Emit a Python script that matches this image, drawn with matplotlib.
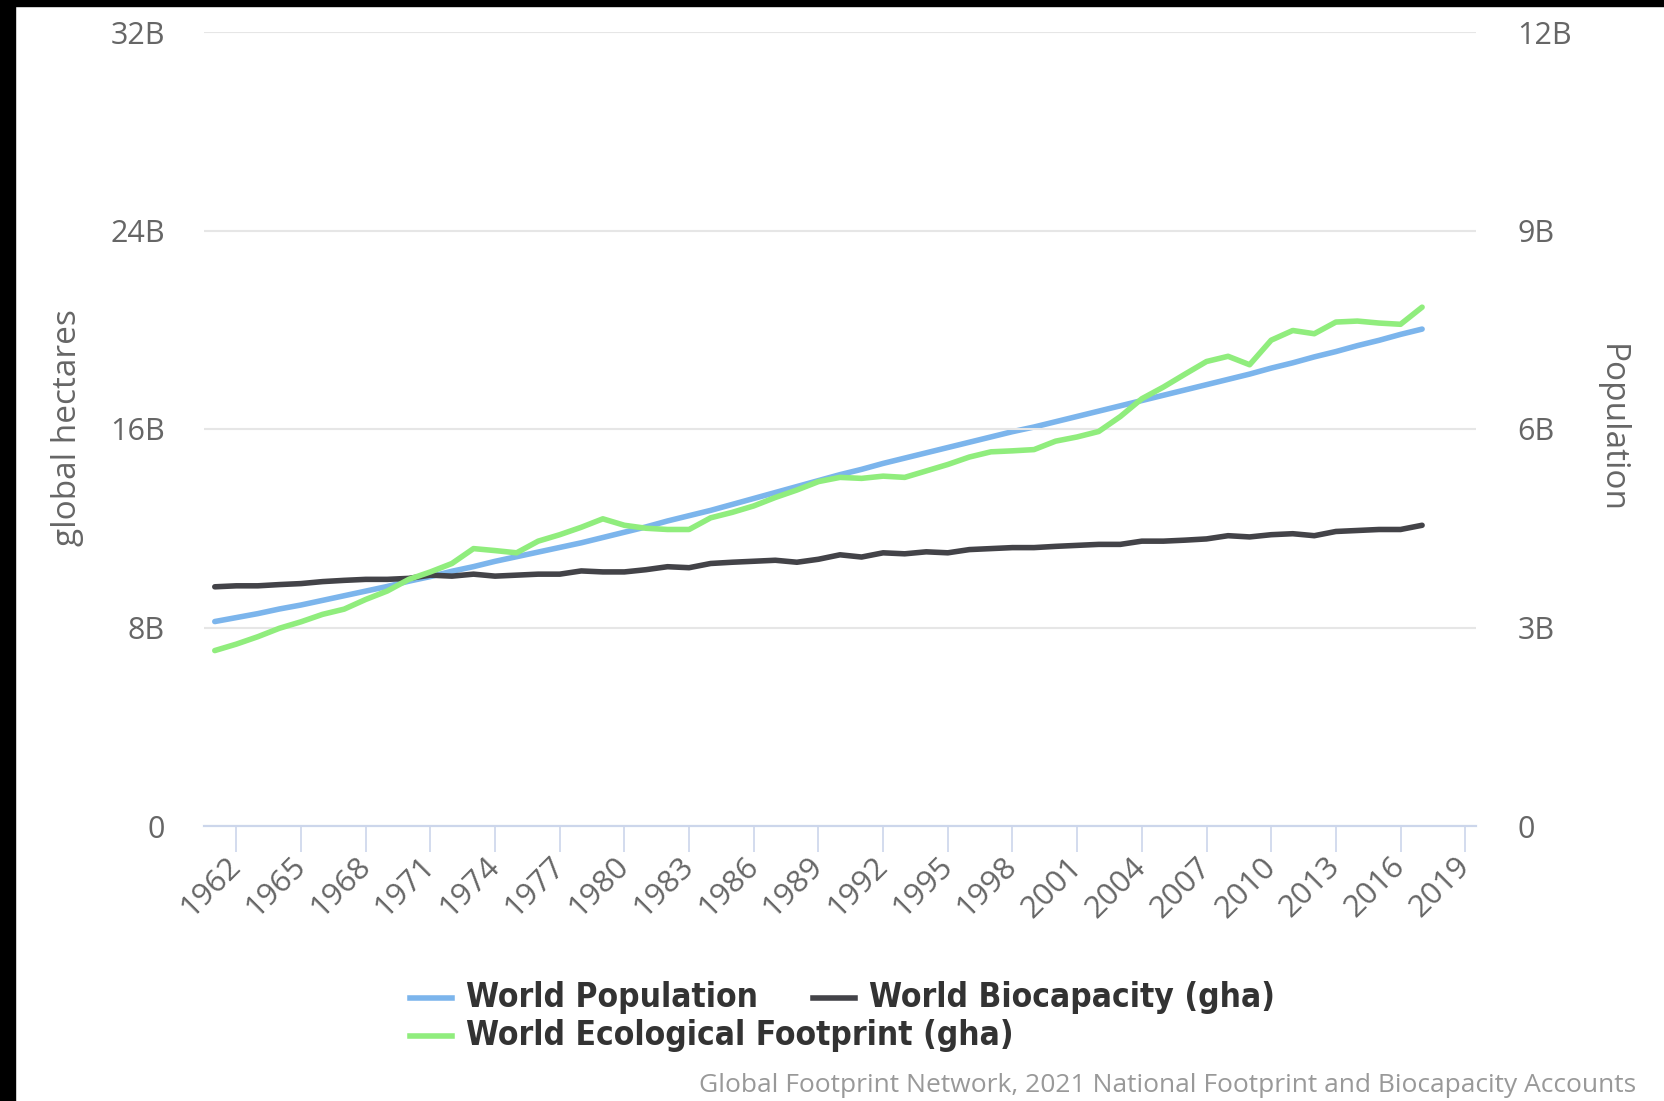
import matplotlib.pyplot as plt
from matplotlib.lines import Line2D
from matplotlib.patches import Rectangle

years = list(range(1961, 2018))

# world population (billions)
population = [3.09, 3.15, 3.21, 3.28, 3.34, 3.41, 3.48, 3.55, 3.62, 3.70,
              3.77, 3.85, 3.92, 4.00, 4.07, 4.14, 4.21, 4.28, 4.36, 4.44,
              4.52, 4.61, 4.69, 4.77, 4.86, 4.95, 5.04, 5.13, 5.22, 5.31,
              5.39, 5.48, 5.56, 5.64, 5.72, 5.80, 5.88, 5.96, 6.03, 6.11,
              6.19, 6.27, 6.35, 6.43, 6.51, 6.59, 6.67, 6.75, 6.83, 6.92,
              7.00, 7.09, 7.17, 7.26, 7.34, 7.43, 7.51]

# biocapacity, global hectares (billions)
biocapacity = [9.64, 9.68, 9.68, 9.73, 9.77, 9.85, 9.90, 9.94, 9.94, 9.98,
               10.11, 10.07, 10.15, 10.07, 10.11, 10.15, 10.15, 10.28, 10.24, 10.24,
               10.33, 10.45, 10.41, 10.58, 10.63, 10.67, 10.71, 10.63, 10.75, 10.93,
               10.84, 11.01, 10.97, 11.05, 11.01, 11.14, 11.18, 11.22, 11.22, 11.27,
               11.31, 11.35, 11.35, 11.48, 11.48, 11.52, 11.57, 11.70, 11.65, 11.74,
               11.78, 11.70, 11.87, 11.91, 11.95, 11.95, 12.12]

# ecological footprint, global hectares (billions)
footprint = [7.07, 7.33, 7.63, 7.97, 8.23, 8.53, 8.74, 9.13, 9.47, 9.94,
             10.24, 10.58, 11.18, 11.10, 11.01, 11.48, 11.74, 12.04, 12.38, 12.12,
             12.00, 11.95, 11.95, 12.42, 12.64, 12.90, 13.24, 13.54, 13.88, 14.05,
             14.01, 14.10, 14.05, 14.31, 14.57, 14.87, 15.08, 15.12, 15.17, 15.51,
             15.68, 15.90, 16.50, 17.22, 17.69, 18.21, 18.72, 18.93, 18.59, 19.58,
             19.97, 19.84, 20.31, 20.35, 20.27, 20.22, 20.91]

left_ticks = [0, 8, 16, 24, 32]
left_labels = ['0', '8B', '16B', '24B', '32B']
right_ticks = [0, 3, 6, 9, 12]
right_labels = ['0', '3B', '6B', '9B', '12B']
x_ticks = list(range(1962, 2020, 3))

blue = '#7cb5ec'
dark = '#434348'
green = '#90ed7d'
label_gray = '#666666'

plt.rcParams['font.family'] = ['Open Sans', 'DejaVu Sans']

W, H = 1665, 1101
fig = plt.figure(figsize=(W / 100, H / 100), dpi=100)
ax = fig.add_axes([204 / W, 1 - 826 / H, (1476 - 204) / W, (826 - 32) / H])
ax2 = ax.twinx()

ax2.plot(years, population, color=blue, lw=4, solid_capstyle='round')
ax.plot(years, biocapacity, color=dark, lw=4, solid_capstyle='round')
ax.plot(years, footprint, color=green, lw=4, solid_capstyle='round')

ax.set_zorder(ax2.get_zorder() + 1)
ax.patch.set_visible(False)

ax.set_xlim(1960.5, 2019.5)
ax.set_ylim(0, 32)
ax2.set_ylim(0, 12)

ax.set_yticks(left_ticks)
ax.set_yticklabels(left_labels)
ax2.set_yticks(right_ticks)
ax2.set_yticklabels(right_labels)
ax.set_xticks(x_ticks)
ax.set_xticklabels([str(y) for y in x_ticks], rotation=45, ha='right',
                   va='center', rotation_mode='anchor')

ax.grid(axis='y', color='#e6e6e6', lw=1.5)
ax.set_axisbelow(True)
for a in (ax, ax2):
    for s in ['top', 'left', 'right']:
        a.spines[s].set_visible(False)
    a.spines['bottom'].set_color('#ccd6eb')
    a.spines['bottom'].set_linewidth(1.5)
ax.tick_params(axis='y', length=0, pad=28, labelsize=22, labelcolor=label_gray)
ax2.tick_params(axis='y', length=0, pad=30, labelsize=22, labelcolor=label_gray)
ax.tick_params(axis='x', length=19, width=1.2, color='#ccd6eb', pad=7,
               labelsize=22.5, labelcolor=label_gray)

fig.text(68 / W, 1 - 428 / H, 'global hectares', rotation=90, fontsize=24,
         color=label_gray, ha='center', va='center')
fig.text(1611 / W, 1 - 428 / H, 'Population', rotation=270, fontsize=24,
         color=label_gray, ha='center', va='center')

# legend, laid out like the original: two entries on the first row, one below
legend_names = ['World Population', 'World Biocapacity (gha)',
                'World Ecological Footprint (gha)']
legend_colors = [blue, dark, green]
legend_pos = [(410, 998), (813, 998), (410, 1036)]
for name, col, (px, py) in zip(legend_names, legend_colors, legend_pos):
    fy = 1 - py / H
    fig.add_artist(Line2D([px / W, (px + 42) / W], [fy, fy], color=col, lw=4,
                          transform=fig.transFigure))
    fig.text((px + 56) / W, fy, name, fontsize=24, fontweight='bold',
             fontstretch='condensed', color='#333333', ha='left', va='center',
             family=['DejaVu Sans'])

fig.text(1636 / W, 1 - 1086 / H,
         'Global Footprint Network, 2021 National Footprint and Biocapacity Accounts',
         fontsize=19, color='#999999', ha='right', va='center')

# black border strips at top and left of the screenshot
fig.patches.append(Rectangle((0, 1 - 6 / H), 1, 6 / H, transform=fig.transFigure,
                             color='black', zorder=10))
fig.patches.append(Rectangle((0, 0), 15 / W, 1, transform=fig.transFigure,
                             color='black', zorder=10))

fig.savefig('out.png', dpi=100)
